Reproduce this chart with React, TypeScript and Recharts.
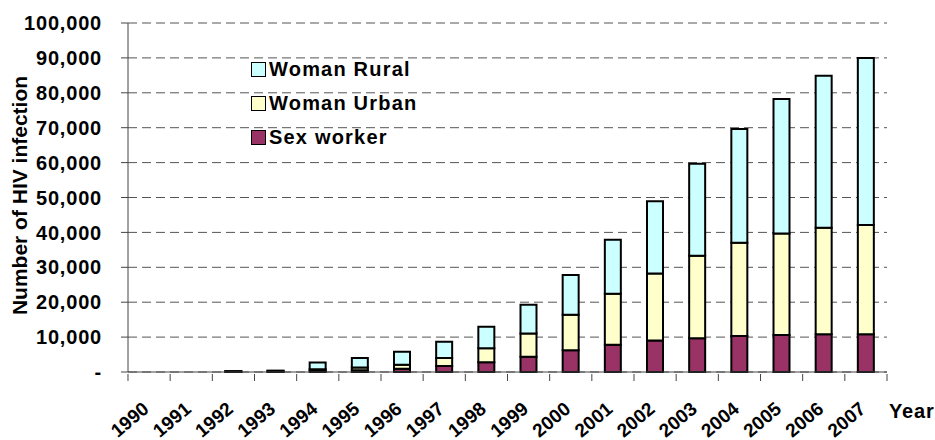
import React from 'react';
import { BarChart, Bar, XAxis, YAxis, CartesianGrid, Legend } from 'recharts';

const years = [
  '1990', '1991', '1992', '1993', '1994', '1995', '1996', '1997', '1998',
  '1999', '2000', '2001', '2002', '2003', '2004', '2005', '2006', '2007',
];
const sexWorker = [0, 0, 80, 120, 350, 500, 900, 1700, 2800, 4400, 6200, 7800, 9000, 9700, 10300, 10600, 10800, 10800];
const womanUrban = [0, 0, 70, 130, 450, 800, 1200, 2300, 4000, 6600, 10200, 14600, 19200, 23600, 26700, 29100, 30500, 31300];
const womanRural = [0, 0, 100, 150, 1900, 2700, 3700, 4700, 6200, 8300, 11400, 15500, 20700, 26400, 32600, 38500, 43600, 47900];
const yTicks = [0, 10000, 20000, 30000, 40000, 50000, 60000, 70000, 80000, 90000, 100000];

const data = years.map((year, i) => ({
  year,
  sex: sexWorker[i],
  urban: womanUrban[i],
  rural: womanRural[i],
}));

const FONT = '"Liberation Sans", Arial, sans-serif';
const AXIS = '#444';
const RURAL = '#ccffff';
const URBAN = '#ffffcc';
const SEX = '#993366';

const legendItems = [
  { name: 'Woman Rural', color: RURAL },
  { name: 'Woman Urban', color: URBAN },
  { name: 'Sex worker', color: SEX },
];

const fmt = (v: number) => (v === 0 ? '-' : v.toLocaleString('en-US'));

// year label rotated up to the right, with tick marks on the category boundaries
const YearTick = (props: any) => {
  const x = Number(props.x);
  const y = Number(props.y);
  const { payload, index } = props;
  const count = props.visibleTicksCount || years.length;
  const half = Number(payload && payload.offset) || Number(props.width) / (2 * count) || 21;
  return (
    <g transform={`translate(${x},${y})`}>
      <line x1={-half} x2={-half} y1={0} y2={7} stroke={AXIS} strokeWidth={1} />
      {index === count - 1 && <line x1={half} x2={half} y1={0} y2={7} stroke={AXIS} strokeWidth={1} />}
      <g transform="translate(1,37) rotate(-40)">
        <text x={0} y={0} textAnchor="end" fontFamily={FONT} fontWeight="bold" fontSize={19} fill="#000">
          {payload.value}
        </text>
      </g>
    </g>
  );
};

const YLabel = (props: any) => {
  const vb = props.viewBox;
  const cy = vb.y + vb.height / 2 - 2;
  return (
    <g transform={`translate(27,${cy}) rotate(-90)`}>
      <text x={0} y={0} textAnchor="middle" fontFamily={FONT} fontWeight="bold" fontSize={21} fill="#000">
        Number of HIV infection
      </text>
    </g>
  );
};

const YearLabel = (props: any) => {
  const vb = props.viewBox;
  return (
    <text
      x={vb.x + vb.width + 2}
      y={vb.y + 46}
      fontFamily={FONT}
      fontWeight="bold"
      fontSize={20}
      letterSpacing={0.8}
      fill="#000"
    >
      Year
    </text>
  );
};

const LegendBox = () => (
  <div style={{ fontFamily: FONT }}>
    {legendItems.map((item) => (
      <div key={item.name} style={{ display: 'flex', alignItems: 'center', height: 34 }}>
        <span
          style={{
            display: 'inline-block',
            width: 13,
            height: 13,
            background: item.color,
            border: '1.5px solid #000',
            marginRight: 3,
          }}
        />
        <span style={{ fontSize: 20, fontWeight: 'bold', letterSpacing: 1.2, color: '#000' }}>{item.name}</span>
      </div>
    ))}
  </div>
);

export default function App() {
  return (
    <div style={{ position: 'absolute', left: 0, top: 0, width: 935, height: 440, background: '#fff' }}>
      <BarChart
        width={935}
        height={440}
        data={data}
        margin={{ top: 23, right: 48, bottom: 0, left: 0 }}
        barSize={16}
      >
        <CartesianGrid vertical={false} stroke="#555" strokeDasharray="9 5" />
        <XAxis
          dataKey="year"
          height={68}
          interval={0}
          tickSize={0}
          tickLine={false}
          tick={(p: any) => <YearTick {...p} />}
          axisLine={{ stroke: AXIS }}
          label={(p: any) => <YearLabel {...p} />}
        />
        <YAxis
          width={128}
          domain={[0, 100000]}
          ticks={yTicks}
          interval={0}
          tickFormatter={fmt}
          tickSize={7}
          tickMargin={19}
          axisLine={{ stroke: AXIS }}
          tickLine={{ stroke: AXIS }}
          tick={{ fill: '#000', fontSize: 20, fontWeight: 'bold', fontFamily: FONT, letterSpacing: 0.8 }}
          label={(p: any) => <YLabel {...p} />}
        />
        <Legend
          layout="vertical"
          align="center"
          verticalAlign="middle"
          content={() => <LegendBox />}
          wrapperStyle={{ left: 251, top: 52, width: 'auto', height: 'auto' }}
        />
        <Bar dataKey="sex" name="Sex worker" stackId="a" fill={SEX} stroke="#000" strokeWidth={2} isAnimationActive={false} />
        <Bar dataKey="urban" name="Woman Urban" stackId="a" fill={URBAN} stroke="#000" strokeWidth={2} isAnimationActive={false} />
        <Bar dataKey="rural" name="Woman Rural" stackId="a" fill={RURAL} stroke="#000" strokeWidth={2} isAnimationActive={false} />
      </BarChart>
    </div>
  );
}
